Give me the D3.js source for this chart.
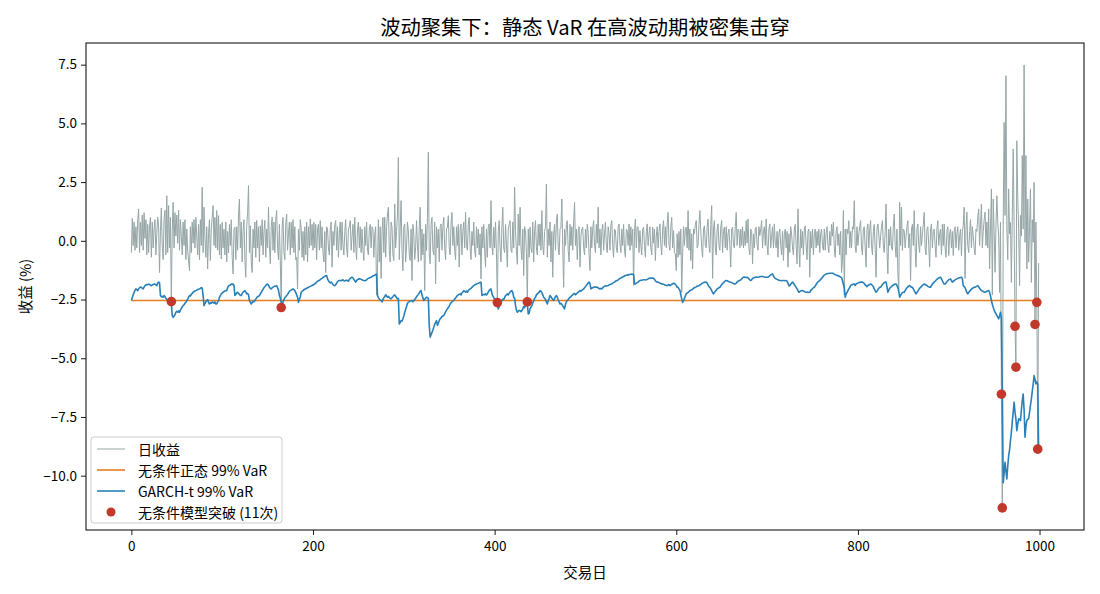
<!DOCTYPE html>
<html><head><meta charset="utf-8">
<script src="https://cdn.jsdelivr.net/npm/d3@7"></script>
<style>
body{margin:0;background:#fff}
text{font-family:"Noto Sans CJK SC","Noto Sans",sans-serif;fill:#000}
</style>
</head><body>
<svg id="chart" width="1100" height="594"></svg>
<script>
// ---------------- data ----------------
const titleText = "波动聚集下：静态 VaR 在高波动期被密集击穿";
const xLabel = "交易日";
const yLabel = "收益 (%)";
const seriesNames = ["日收益", "无条件正态 99% VaR", "GARCH-t 99% VaR", "无条件模型突破"];
const xTicks = [0, 200, 400, 600, 800, 1000];
const yTicks = [-10, -7.5, -5, -2.5, 0, 2.5, 5, 7.5];
const uncondVaR = -2.54;

const returns = [
-0.5,0.95,-0.2,0.8,-0.4,0.6,-0.3,0.9,1.36,-0.5,0.8,-0.2,1.1,-0.4,1.2,0.1,0.9,-0.6,0.7,-0.5,0.6,1.0,-0.7,0.8,-0.3,0.5,0.9,-0.6,0.3,1.0,0.64,-1.35,0.4,1.4,-0.2,-0.8,0.9,1.3,-0.6,1.92,-0.5,1.5,-0.3,1.0,-2.59,0.4,1.64,-0.3,1.2,0.2,
1.1,-0.1,1.3,-0.4,0.9,0.2,-0.6,0.8,-0.2,0.9,-0.8,0.5,-0.4,-0.85,-1.27,0.6,-0.5,0.8,-0.1,0.9,-0.3,1.0,0.2,-0.6,0.7,-0.8,0.9,-0.2,2.28,-0.5,1.43,0.1,-0.7,0.6,-1.2,0.3,0.9,-0.84,0.5,1.0,1.5,-0.2,1.0,-0.3,1.29,-0.4,1.07,-0.6,0.7,-0.77,
0.79,-0.3,0.5,-0.6,0.8,-0.9,0.4,-0.5,0.7,-0.2,0.9,-0.7,-1.41,0.5,0.58,-0.8,0.6,-0.4,1.1,1.78,-0.3,0.8,-0.9,0.4,0.9,-0.8,-1.55,0.6,1.2,2.35,-0.5,0.64,-0.9,-1.35,0.5,-0.3,0.8,-0.7,0.87,-0.3,0.6,-0.9,0.64,-0.2,0.9,-0.6,0.4,0.87,-0.7,0.5,
-0.3,1.43,-0.2,-0.98,0.6,1.0,-0.4,0.8,-0.5,0.9,1.29,-0.3,-0.8,0.7,-0.9,-2.84,0.6,1.0,-0.5,-0.8,0.7,1.14,-0.4,0.3,0.8,-0.6,0.79,-0.3,0.9,-0.5,0.6,-0.8,-0.7,-2.05,0.5,-0.4,0.9,0.51,-0.7,0.4,-0.84,0.6,-0.6,0.8,-0.9,0.6,-0.3,0.93,-0.2,0.7,
-0.4,0.79,-0.3,0.7,-0.8,0.5,0.7,-0.4,0.86,-0.3,0.6,-0.5,-0.9,0.4,-1.35,0.6,0.5,-0.3,-0.6,0.5,0.8,-1.12,0.4,-0.2,0.7,0.86,-0.4,0.6,-0.7,0.3,0.8,-0.4,0.79,-0.2,-0.6,0.4,0.9,-0.3,-0.7,0.5,0.6,0.86,-0.4,0.2,0.7,-0.5,1.0,-0.2,-0.8,0.5,
0.8,-0.3,0.6,-0.5,0.5,-0.4,-0.84,0.6,-0.2,0.8,-0.4,-0.6,0.5,0.7,-0.3,0.6,0.5,-0.7,0.3,0.6,-2.3,-1.2,0.9,-0.9,0.6,-1.6,0.4,1.0,-0.5,1.0,-0.7,0.6,1.1,1.43,-0.4,-0.9,0.8,0.58,-0.6,-0.84,1.57,-0.3,0.4,1.1,3.55,-0.8,0.5,1.71,-0.4,-1.27,
0.6,0.72,-0.9,-0.27,0.8,0.43,-0.6,-0.84,0.5,-1.69,0.7,0.29,-0.8,-0.3,0.86,-0.2,-0.9,0.6,1.43,-0.84,0.5,-0.6,0.3,-2.12,0.7,-0.41,1.0,3.77,-0.6,-0.98,0.7,1.0,-0.4,-0.6,0.8,-1.83,0.6,-0.3,0.5,-0.9,0.6,0.72,-0.4,0.6,1.0,-0.3,-0.8,0.5,0.58,1.07,
-0.3,-0.6,0.7,1.21,-0.2,0.6,-0.4,-0.8,0.6,-0.2,0.7,-1.12,0.5,0.72,-0.6,0.4,0.8,-0.3,1.21,-0.2,-0.4,0.7,1.0,-0.3,-0.8,0.4,-0.2,0.8,-0.4,-0.7,0.6,-0.3,0.5,-0.6,0.3,-1.62,0.6,-0.3,0.7,-0.4,-1.12,0.5,-0.7,0.6,0.72,-0.3,1.71,-0.2,-0.6,0.58,
-0.3,0.8,-0.5,-2.63,0.4,0.86,-0.3,-0.9,0.6,1.43,-0.3,-0.5,0.7,-0.2,-1.12,0.5,0.7,0.86,-0.4,-0.5,0.8,-0.3,2.28,0.4,-0.4,-1.0,1.14,-0.2,1.43,-0.3,-0.8,0.5,-1.48,0.6,0.43,-0.5,-2.6,0.5,-0.7,0.58,-0.3,-0.5,0.8,-0.9,0.4,0.86,-0.3,-0.6,0.7,-0.2,
0.72,-0.4,1.29,-0.2,-0.6,0.4,0.6,2.42,-0.7,0.5,-0.2,0.8,-0.9,0.4,-1.55,0.3,0.7,-0.4,0.86,1.14,-0.3,-0.6,0.5,0.58,1.78,-0.3,-1.98,0.5,-0.2,0.7,0.86,-0.4,-0.9,0.7,-0.2,0.6,-0.4,0.8,1.64,-0.2,0.5,-0.8,0.4,0.6,-1.12,0.2,0.5,0.58,-0.3,-0.6,
0.5,-0.3,0.7,0.36,-0.6,-1.27,0.6,-0.3,0.5,0.86,-0.2,-0.5,0.7,-0.1,1.43,-0.3,0.5,-0.6,0.4,0.7,-0.4,0.3,0.79,-0.2,-0.5,0.6,0.29,-0.4,0.7,0.86,-0.2,-0.7,0.5,0.43,-0.3,-0.5,0.6,0.72,-0.1,-0.5,0.5,-0.2,0.7,-0.4,-0.7,0.5,0.43,-0.2,0.72,-0.4,
0.6,-0.2,0.5,-1.9,0.4,0.93,-0.3,0.6,0.58,-0.5,0.43,-0.2,-0.6,0.5,0.58,-0.2,-0.7,0.4,0.72,-0.2,0.3,0.6,-0.3,-0.6,0.58,-0.1,0.5,-0.84,0.2,0.6,-0.3,0.4,0.72,-0.2,-0.6,0.5,0.86,-0.2,0.6,-0.3,0.7,1.21,-0.2,-0.4,0.6,1.0,-0.3,0.43,-0.5,-0.56,
-1.27,0.3,-0.7,0.4,-0.6,0.5,-2.2,-0.56,0.6,-0.2,0.5,0.58,-0.3,1.29,-0.4,0.5,-0.84,0.3,-1.2,0.5,0.29,0.7,0.86,-0.3,-0.2,0.7,1.29,0.43,-0.3,-0.7,0.5,0.64,-0.2,-0.3,0.6,0.93,-0.2,-0.5,0.7,1.5,-1.6,0.5,0.86,-0.3,-0.6,0.5,0.72,-0.2,-0.4,0.6,
0.86,-0.5,0.4,0.58,-0.3,0.6,-0.4,0.3,0.5,-0.2,-1.12,0.5,0.58,-0.2,-0.3,0.6,1.21,-0.2,0.5,0.43,-0.3,0.5,-0.2,0.6,-0.3,0.4,-0.2,0.86,-0.1,0.93,-0.3,-0.6,0.5,0.4,-0.98,0.3,-0.3,0.5,0.58,-0.2,-0.4,0.6,0.22,0.5,0.86,-0.3,0.4,0.6,-0.2,0.93,
-0.2,-0.6,0.5,0.72,-0.3,0.2,0.6,-0.3,0.72,-0.1,-0.3,0.4,-0.7,0.3,0.5,-0.2,-0.6,0.4,-0.84,0.3,0.5,-0.3,0.4,-1.12,0.3,-0.5,0.6,0.29,-0.3,-0.6,0.5,0.7,-0.2,-0.98,1.36,-0.2,-1.12,0.5,-0.3,0.4,-0.6,0.5,0.64,-0.2,-0.8,0.4,0.5,-1.55,0.4,-0.3,
0.5,-0.6,0.3,0.5,-0.3,0.4,-0.2,0.5,-0.5,0.3,0.5,-0.2,-0.4,0.5,-0.4,0.3,0.6,-0.2,-0.5,0.4,-0.2,0.7,0.2,0.8,-0.3,-0.7,0.4,0.6,-0.2,0.3,-0.6,0.4,-1.35,-0.84,1.29,-2.3,0.5,-0.6,0.5,0.3,0.86,-0.3,0.4,-0.3,0.6,0.5,1.71,-0.2,-0.5,0.6,
-0.2,0.3,0.6,0.86,-0.3,-0.6,0.5,0.6,-0.3,-1.12,0.5,0.72,-0.3,0.5,0.86,-0.2,-0.6,0.4,0.7,-0.3,-1.55,0.5,0.72,0.29,-0.3,0.2,0.6,0.86,-0.2,-0.5,0.4,1.57,-0.4,-1.41,0.5,-0.2,0.6,-0.3,-0.4,0.6,1.14,-0.2,-0.7,0.5,-1.41,-2.1,1.64,-0.2,1.43,-0.41,
0.5,0.43,-0.3,0.2,0.6,0.86,-0.3,0.3,-1.69,0.5,0.7,-0.2,1.29,-0.3,-1.12,0.5,0.72,-0.2,-0.5,0.6,-0.2,0.3,0.7,1.21,-0.3,-0.6,0.5,0.6,-0.2,-1.12,0.5,0.72,-0.3,0.4,0.5,-0.2,-0.7,0.5,0.86,-0.2,0.3,0.5,-0.6,0.7,-0.2,0.72,-0.3,-0.7,0.4,0.6,
-0.63,0.3,0.5,-0.3,0.4,-0.63,0.4,0.6,-0.3,0.3,0.6,-0.4,0.2,0.5,-0.63,0.4,0.65,1.43,-1.6,0.5,1.22,-0.2,-0.5,0.4,0.9,-0.3,0.6,0.2,-0.3,-0.6,0.5,0.4,1.0,1.36,-0.2,0.7,1.57,-0.3,0.4,0.9,1.22,-0.2,0.8,-0.3,1.36,-1.2,0.6,2.21,-2.3,1.78,
0.4,-1.34,0.6,1.92,0.79,0.2,-2.2,0.79,-6.53,-11.37,0.8,5.04,1.08,7.03,0.51,-0.8,2.21,0.3,0.79,-1.77,1.08,3.91,0.6,-3.64,-5.38,4.26,1.92,0.51,-1.91,1.08,0.2,3.63,0.5,7.48,-0.06,3.63,-1.2,1.78,-0.91,0.6,2.21,-1.77,0.9,-0.06,2.49,-3.56,0.8,-2.62,-8.87,-0.95
];

const garchVaR = [
-2.54,-2.42,-2.3,-2.2,-2.1,-2.05,-2.08,-2.12,-2.04,-2.0,-1.97,-1.98,-2.02,-2.05,-1.97,-1.91,-1.88,-1.86,-1.87,-1.84,-1.86,-1.89,-1.91,-1.88,-1.86,-1.85,-1.84,-1.88,-1.91,-1.8,-1.76,-1.78,-2.33,-2.38,-2.36,-2.4,-2.33,-2.38,-2.45,-2.5,-2.54,-2.56,-2.6,-2.55,-2.62,-3.18,-3.26,-3.2,-3.15,-3.04,
-3.0,-3.04,-2.98,-3.04,-2.95,-2.88,-2.82,-2.76,-2.72,-2.66,-2.62,-2.55,-2.48,-2.4,-2.33,-2.35,-2.28,-2.24,-2.19,-2.16,-2.14,-2.12,-2.1,-2.07,-2.06,-2.05,-2.02,-2.0,-2.01,-2.33,-2.76,-2.68,-2.6,-2.54,-2.5,-2.62,-2.69,-2.64,-2.66,-2.6,-2.62,-2.66,-2.6,-2.69,-2.69,-2.6,-2.55,-2.4,-2.33,-2.26,
-2.22,-2.19,-2.16,-2.14,-2.13,-2.12,-2.0,-1.91,-1.9,-1.88,-1.84,-1.86,-1.84,-1.9,-2.33,-2.28,-2.22,-2.19,-2.24,-2.28,-2.33,-2.33,-2.25,-2.18,-2.15,-2.12,-2.18,-2.26,-2.24,-2.3,-2.55,-2.62,-2.69,-2.62,-2.58,-2.6,-2.54,-2.48,-2.42,-2.38,-2.36,-2.33,-2.26,-2.2,-2.12,-2.06,-2.0,-1.95,-1.9,-1.86,
-1.84,-1.88,-1.98,-2.02,-2.05,-2.0,-1.97,-1.95,-1.93,-1.92,-1.91,-2.0,-2.1,-2.33,-2.45,-2.6,-2.75,-2.6,-2.5,-2.42,-2.38,-2.33,-2.28,-2.22,-2.15,-2.12,-2.1,-2.07,-2.05,-2.08,-2.12,-2.2,-2.3,-2.4,-2.62,-2.5,-2.38,-2.19,-2.15,-2.12,-2.08,-2.06,-2.04,-2.02,-2.0,-1.98,-1.96,-1.94,-1.92,-1.9,
-1.88,-1.86,-1.84,-1.8,-1.76,-1.72,-1.7,-1.68,-1.65,-1.62,-1.6,-1.57,-1.54,-1.51,-1.49,-1.48,-1.62,-1.7,-1.76,-1.79,-1.76,-1.8,-1.86,-1.9,-1.91,-1.88,-1.8,-1.74,-1.7,-1.69,-1.69,-1.7,-1.68,-1.66,-1.7,-1.71,-1.69,-1.68,-1.69,-1.72,-1.65,-1.6,-1.57,-1.55,-1.58,-1.64,-1.7,-1.76,-1.7,-1.65,
-1.63,-1.62,-1.62,-1.64,-1.66,-1.68,-1.69,-1.7,-1.69,-1.66,-1.62,-1.6,-1.58,-1.56,-1.55,-1.52,-1.5,-1.48,-1.46,-1.43,-1.42,-2.33,-2.42,-2.48,-2.52,-2.54,-2.6,-2.5,-2.42,-2.38,-2.3,-2.35,-2.4,-2.36,-2.42,-2.45,-2.47,-2.42,-2.38,-2.33,-2.3,-2.36,-2.42,-2.47,-2.45,-3.54,-3.48,-3.4,-3.42,-3.32,
-3.2,-3.05,-2.92,-2.8,-2.66,-2.62,-2.6,-2.56,-2.55,-2.54,-2.6,-2.55,-2.5,-2.45,-2.38,-2.33,-2.28,-2.22,-2.15,-2.12,-2.3,-2.42,-2.54,-2.5,-2.45,-2.4,-2.42,-2.45,-3.6,-4.1,-4.0,-3.9,-3.8,-3.68,-3.55,-3.47,-3.4,-3.6,-3.5,-3.4,-3.32,-3.28,-3.22,-3.2,-3.18,-3.1,-3.02,-2.96,-2.9,-2.84,
-2.78,-2.69,-2.64,-2.6,-2.57,-2.54,-2.48,-2.43,-2.38,-2.33,-2.3,-2.28,-2.26,-2.3,-2.22,-2.18,-2.12,-2.15,-2.19,-2.14,-2.19,-2.12,-2.08,-2.05,-2.02,-1.98,-1.94,-1.91,-1.88,-1.86,-1.84,-1.82,-1.81,-1.79,-1.77,-1.76,-2.33,-2.3,-2.28,-2.3,-2.26,-2.3,-2.26,-2.18,-2.12,-2.08,-2.05,-2.25,-2.35,-2.4,
-2.5,-2.62,-2.69,-2.66,-2.9,-2.8,-2.7,-2.62,-2.55,-2.48,-2.5,-2.42,-2.33,-2.3,-2.26,-2.3,-2.24,-2.18,-2.14,-2.12,-2.2,-2.4,-2.45,-2.75,-2.95,-3.04,-3.0,-2.96,-2.98,-3.02,-2.97,-2.9,-2.8,-2.85,-2.7,-2.62,-2.7,-3.11,-3.08,-2.9,-2.82,-2.76,-2.65,-2.55,-2.45,-2.4,-2.3,-2.26,-2.22,-2.19,
-2.12,-2.15,-2.2,-2.3,-2.4,-2.45,-2.5,-2.6,-2.69,-2.55,-2.45,-2.33,-2.38,-2.45,-2.5,-2.54,-2.45,-2.38,-2.33,-2.4,-2.52,-2.6,-2.69,-2.66,-2.7,-2.78,-2.83,-2.9,-2.7,-2.6,-2.54,-2.5,-2.45,-2.4,-2.38,-2.33,-2.3,-2.26,-2.24,-2.3,-2.26,-2.22,-2.19,-2.16,-2.12,-2.15,-2.1,-2.08,-2.05,-2.0,
-1.95,-1.9,-1.85,-1.8,-1.76,-1.82,-2.05,-2.02,-2.0,-1.98,-1.96,-1.98,-1.97,-1.98,-2.0,-2.03,-2.05,-2.02,-2.05,-2.0,-1.96,-1.94,-1.91,-1.92,-1.91,-1.9,-1.88,-1.86,-1.85,-1.84,-1.8,-1.78,-1.76,-1.72,-1.7,-1.69,-1.66,-1.63,-1.6,-1.58,-1.56,-1.54,-1.52,-1.5,-1.48,-1.47,-1.46,-1.45,-1.44,-1.43,
-1.42,-1.41,-1.42,-1.43,-1.84,-1.84,-1.8,-1.78,-1.76,-1.72,-1.69,-1.68,-1.68,-1.67,-1.66,-1.66,-1.67,-1.66,-1.64,-1.62,-1.6,-1.6,-1.58,-1.6,-1.58,-1.6,-1.64,-1.7,-1.74,-1.76,-1.76,-1.78,-1.8,-1.82,-1.84,-1.84,-1.85,-1.87,-1.89,-1.9,-1.91,-1.88,-1.86,-1.91,-1.88,-1.85,-1.83,-1.81,-1.81,-1.86,
-1.9,-1.98,-1.98,-2.05,-2.1,-2.3,-2.47,-2.62,-2.55,-2.45,-2.35,-2.26,-2.22,-2.2,-2.16,-2.12,-2.1,-2.08,-2.06,-2.02,-2.0,-1.98,-1.96,-1.93,-1.92,-1.91,-1.88,-1.86,-1.82,-1.8,-1.78,-1.77,-1.76,-1.76,-1.8,-1.88,-1.95,-1.98,-2.05,-2.12,-2.2,-2.26,-2.2,-2.15,-2.1,-2.05,-2.02,-2.0,-1.98,-1.92,
-1.87,-1.82,-1.78,-1.74,-1.7,-1.69,-1.7,-1.72,-1.74,-1.75,-1.76,-1.78,-1.8,-1.82,-1.84,-1.83,-1.8,-1.76,-1.72,-1.7,-1.68,-1.67,-1.62,-1.58,-1.55,-1.54,-1.55,-1.56,-1.55,-1.58,-1.62,-1.66,-1.69,-1.66,-1.6,-1.58,-1.56,-1.55,-1.54,-1.55,-1.55,-1.54,-1.53,-1.52,-1.52,-1.52,-1.53,-1.54,-1.55,-1.55,
-1.55,-1.55,-1.52,-1.48,-1.45,-1.43,-1.41,-1.5,-1.56,-1.6,-1.62,-1.64,-1.66,-1.68,-1.69,-1.69,-1.7,-1.69,-1.69,-1.7,-1.69,-1.69,-1.72,-1.8,-1.91,-1.91,-1.85,-1.8,-1.76,-1.8,-1.86,-1.92,-1.98,-2.05,-2.12,-2.19,-2.16,-2.14,-2.12,-2.12,-2.14,-2.16,-2.18,-2.19,-2.18,-2.19,-2.2,-2.19,-2.12,-2.08,
-2.04,-2.0,-1.98,-1.92,-1.86,-1.8,-1.75,-1.72,-1.69,-1.64,-1.6,-1.55,-1.5,-1.46,-1.44,-1.41,-1.4,-1.39,-1.39,-1.38,-1.38,-1.38,-1.38,-1.39,-1.42,-1.44,-1.46,-1.48,-1.48,-1.5,-1.52,-1.55,-1.56,-1.7,-1.85,-2.0,-2.4,-2.26,-2.2,-2.12,-2.05,-1.98,-1.91,-1.88,-1.86,-1.84,-1.84,-1.9,-1.84,-1.82,
-1.8,-1.78,-1.77,-1.76,-1.76,-1.76,-1.78,-1.82,-1.88,-1.91,-1.95,-1.9,-1.88,-1.86,-1.84,-1.86,-1.9,-1.95,-2.05,-2.12,-2.19,-2.15,-2.08,-2.02,-1.98,-1.98,-1.92,-1.86,-1.82,-1.78,-1.76,-1.76,-1.95,-2.19,-2.1,-2.02,-1.98,-1.95,-1.91,-1.88,-1.86,-1.84,-1.84,-1.9,-2.0,-2.15,-2.4,-2.32,-2.26,-2.2,
-2.19,-2.19,-2.12,-2.05,-2.0,-1.96,-1.92,-1.91,-1.94,-1.98,-1.98,-2.05,-2.12,-2.2,-2.26,-2.2,-2.14,-2.08,-2.02,-1.98,-1.94,-1.9,-1.87,-1.84,-1.86,-1.88,-1.9,-1.94,-1.96,-1.98,-1.98,-1.9,-1.84,-1.8,-1.76,-1.72,-1.68,-1.64,-1.6,-1.58,-1.56,-1.55,-1.62,-1.7,-1.78,-1.84,-1.84,-1.8,-1.74,-1.7,
-1.66,-1.64,-1.62,-1.7,-1.76,-1.72,-1.7,-1.66,-1.64,-1.62,-1.6,-1.58,-1.57,-1.56,-1.55,-1.6,-1.91,-1.95,-2.0,-2.1,-2.2,-2.26,-2.2,-2.14,-2.1,-2.06,-2.03,-2.0,-1.98,-1.98,-1.95,-1.93,-1.91,-1.96,-2.02,-2.08,-2.12,-2.14,-2.16,-2.18,-2.19,-2.17,-2.15,-2.13,-2.12,-2.2,-2.35,-2.54,-2.7,-2.83,
-2.95,-3.04,-3.1,-3.18,-3.25,-3.32,-3.2,-3.04,-3.3,-6.6,-10.3,-9.9,-9.43,-9.8,-10.14,-9.6,-9.14,-8.9,-8.5,-8.15,-7.7,-7.3,-6.87,-7.3,-7.6,-8.08,-7.8,-7.58,-7.6,-7.65,-7.2,-6.8,-6.52,-7.2,-8.36,-7.9,-7.65,-7.6,-7.58,-7.3,-7.0,-6.73,-6.4,-6.1,-5.74,-5.9,-6.09,-6.0,-6.1,-8.9
];

const colors = { ret: "#95a5a6", uncond: "#e67e22", garch: "#2980b9", breach: "#c0392b" };

// ---------------- chart ----------------
const svg = d3.select("#chart");
const W = 1100, H = 594;
const m = { left: 86, right: 16, top: 43, bottom: 64 };
const pw = W - m.left - m.right, ph = H - m.top - m.bottom;

const n = returns.length;
const days = d3.range(n);
const breaches = days.filter(i => returns[i] < uncondVaR);

const xPad = (n - 1) * 0.05;
const x = d3.scaleLinear().domain([-xPad, n - 1 + xPad]).range([m.left, m.left + pw]);
const lo = Math.min(d3.min(returns), d3.min(garchVaR), uncondVaR);
const hi = Math.max(d3.max(returns), d3.max(garchVaR), uncondVaR);
const yPad = (hi - lo) * 0.05;
const y = d3.scaleLinear().domain([lo - yPad, hi + yPad]).range([m.top + ph, m.top]);

const g = svg.append("g");
svg.append("clipPath").attr("id", "clip").append("rect")
  .attr("x", m.left).attr("y", m.top).attr("width", pw).attr("height", ph);

const plot = g.append("g").attr("clip-path", "url(#clip)");

plot.append("path").datum(days)
  .attr("fill", "none").attr("stroke", colors.ret).attr("stroke-width", 1.0)
  .attr("stroke-linejoin", "round")
  .attr("d", d3.line().x(i => x(i)).y(i => y(returns[i])));

plot.append("line")
  .attr("x1", x(0)).attr("x2", x(n - 1)).attr("y1", y(uncondVaR)).attr("y2", y(uncondVaR))
  .attr("stroke", colors.uncond).attr("stroke-width", 1.6);

plot.append("path").datum(days)
  .attr("fill", "none").attr("stroke", colors.garch).attr("stroke-width", 1.6)
  .attr("stroke-linejoin", "round")
  .attr("d", d3.line().x(i => x(i)).y(i => y(garchVaR[i])));

plot.selectAll("circle.br").data(breaches).join("circle").attr("class", "br")
  .attr("cx", i => x(i)).attr("cy", i => y(returns[i])).attr("r", 4.8)
  .attr("fill", colors.breach);

// axes
const xAxis = d3.axisBottom(x).tickValues(xTicks).tickFormat(d3.format("d")).tickSize(5).tickPadding(6);
const yAxis = d3.axisLeft(y).tickValues(yTicks).tickFormat(d3.format(".1f")).tickSize(5).tickPadding(4);
const gx = g.append("g").attr("transform", `translate(0,${m.top + ph})`).call(xAxis);
const gy = g.append("g").attr("transform", `translate(${m.left},0)`).call(yAxis);
[gx, gy].forEach(a => {
  a.select(".domain").remove();
  a.selectAll(".tick line").attr("stroke", "#000").attr("stroke-width", 0.9);
  a.selectAll(".tick text").attr("font-size", 13.5).attr("fill", "#000")
    .style("font-family", '"Noto Sans CJK SC", sans-serif');
});

// frame
g.append("rect").attr("x", m.left).attr("y", m.top).attr("width", pw).attr("height", ph)
  .attr("fill", "none").attr("stroke", "#000").attr("stroke-width", 1);

// labels
g.append("text").attr("x", m.left + pw / 2).attr("y", 26).attr("text-anchor", "middle")
  .attr("dominant-baseline", "central").attr("font-size", 20.3).text(titleText);
g.append("text").attr("x", m.left + pw / 2).attr("y", 571).attr("text-anchor", "middle")
  .attr("dominant-baseline", "central").attr("font-size", 14.5).text(xLabel);
g.append("text").attr("transform", `translate(24,${m.top + ph / 2}) rotate(-90)`)
  .attr("text-anchor", "middle").attr("dominant-baseline", "central").attr("font-size", 14.5).text(yLabel);

// legend
const lg = g.append("g").attr("transform", "translate(91,437)");
lg.append("rect").attr("width", 191).attr("height", 86).attr("rx", 3)
  .attr("fill", "#fff").attr("fill-opacity", 0.8).attr("stroke", "#cccccc").attr("stroke-width", 1);
const rows = [
  { name: seriesNames[0], type: "line", color: colors.ret, w: 1.0 },
  { name: seriesNames[1], type: "line", color: colors.uncond, w: 1.6 },
  { name: seriesNames[2], type: "line", color: colors.garch, w: 1.6 },
  { name: `${seriesNames[3]} (${breaches.length}次)`, type: "dot", color: colors.breach }
];
rows.forEach((r, k) => {
  const cy = 12 + k * 21;
  if (r.type === "line") {
    lg.append("line").attr("x1", 6).attr("x2", 34).attr("y1", cy).attr("y2", cy)
      .attr("stroke", r.color).attr("stroke-width", r.w);
  } else {
    lg.append("circle").attr("cx", 20).attr("cy", cy).attr("r", 4.5).attr("fill", r.color);
  }
  lg.append("text").attr("x", 47).attr("y", cy).attr("dominant-baseline", "central")
    .attr("font-size", 14).text(r.name);
});
</script>
</body></html>
